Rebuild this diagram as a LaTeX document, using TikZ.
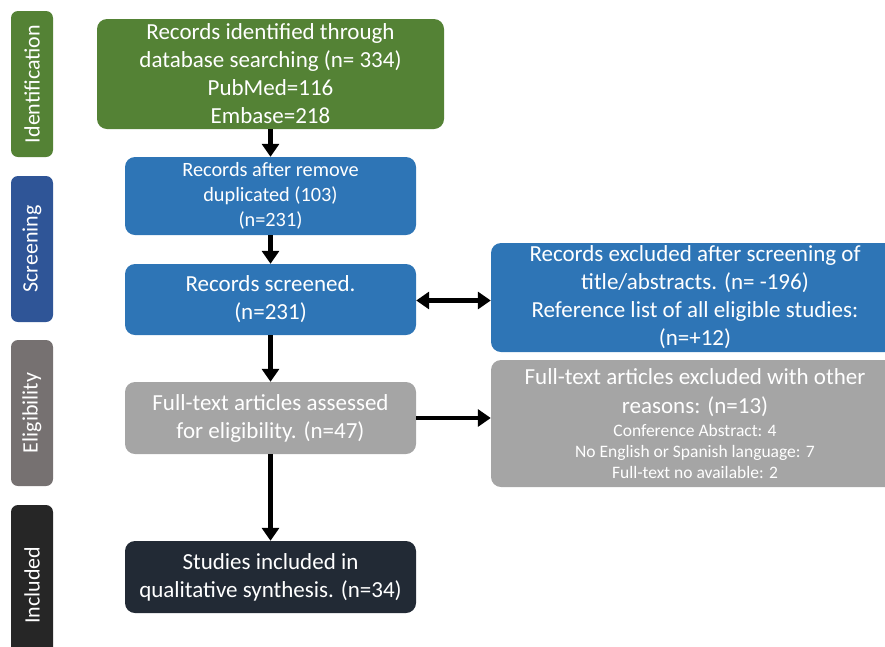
\documentclass[tikz,border=0pt]{standalone}
\usepackage{fontspec}
\setmainfont{Carlito}
\usetikzlibrary{arrows.meta}
\definecolor{cgreen}{HTML}{548235}
\definecolor{cblue}{HTML}{2E75B6}
\definecolor{cdblue}{HTML}{2F5597}
\definecolor{cgrey}{HTML}{A5A5A5}
\definecolor{cdgrey}{HTML}{767171}
\definecolor{cblack}{HTML}{262626}
\definecolor{cnavy}{HTML}{222A35}
\tikzset{
  box/.style={rounded corners=10pt, text=white, align=center, inner sep=2pt},
  side/.style={rounded corners=7pt, text=white, rotate=90, minimum height=42pt, inner sep=0pt,
    font=\fontsize{22}{26}\selectfont},
  big/.style={font=\fontsize{23}{28}\selectfont},
  mid/.style={font=\fontsize{20.3}{25}\selectfont},
  arr/.style={line width=4.5pt, -{Triangle[width=17pt,length=13pt]}},
  darr/.style={line width=4.5pt, {Triangle[width=17pt,length=13pt]}-{Triangle[width=17pt,length=13pt]}}
}
\begin{document}
\begin{tikzpicture}[x=1pt,y=-1pt]
\useasboundingbox (0,0) rectangle (885,646);
\clip (0,0) rectangle (885,646);
% side labels
\node[side, fill=cgreen, minimum width=146pt] (sid) at (32,84) {Identification};
\node[side, fill=cdblue, minimum width=146pt] (sscr) at (32,249) {Screening};
\node[side, fill=cdgrey, minimum width=146pt] (selig) at (32,413) {Eligibility};
\node[side, fill=cblack, minimum width=160pt] (sinc) at (32,585) {Included};
% main boxes
\node[box, big, fill=cgreen, minimum width=347pt, minimum height=110pt] (b1) at (270.5,74)
  {Records identified through\\database searching (n= 334)\\PubMed=116\\Embase=218};
\node[box, mid, fill=cblue, minimum width=291pt, minimum height=78pt] (b2) at (270.5,196)
  {Records after remove\\duplicated (103)\\(n=231)};
\node[box, big, fill=cblue, minimum width=291pt, minimum height=71pt] (b3) at (270.5,299.5)
  {Records screened.\\(n=231)};
\node[box, big, fill=cgrey, minimum width=291pt, minimum height=72pt] (b4) at (270.5,418)
  {Full-text articles assessed\\for eligibility. (n=47)};
\node[box, big, fill=cnavy, minimum width=291pt, minimum height=72pt] (b5) at (270.5,577)
  {Studies included in\\qualitative synthesis. (n=34)};
\node[box, big, fill=cblue, minimum width=408pt, minimum height=109pt] (rb) at (695,297.5)
  {Records excluded after screening of\\title/abstracts. (n= -196)\\Reference list of all eligible studies:\\(n=+12)};
\node[box, fill=cgrey, minimum width=408pt, minimum height=127pt,
      font=\fontsize{17.5}{21}\selectfont] (rg) at (695,423.5)
  {{\fontsize{23}{28}\selectfont Full-text articles excluded with other}\\[8pt]
   {\fontsize{23}{28}\selectfont reasons: (n=13)}\\[2pt]
   Conference Abstract: 4\\
   No English or Spanish language: 7\\
   Full-text no available: 2};
% arrows
\draw[arr] (b1) -- (b2);
\draw[arr] (b2) -- (b3);
\draw[arr] (b3) -- (b4);
\draw[arr] (b4) -- (b5);
\draw[darr] ([yshift=-1pt]b3.east) -- ([yshift=-1pt]b3.east -| rb.west);
\draw[arr] (b4.east) -- (b4.east -| rg.west);
\end{tikzpicture}
\end{document}
